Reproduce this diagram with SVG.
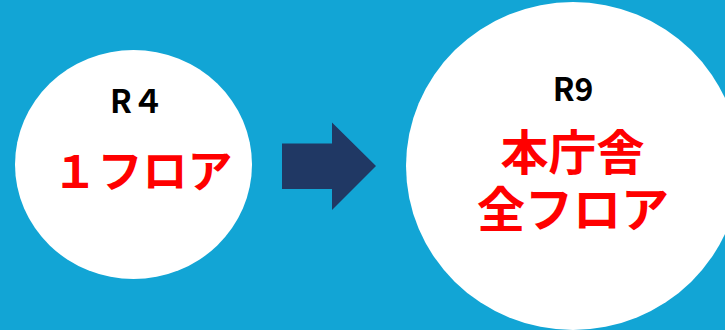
<svg xmlns="http://www.w3.org/2000/svg" width="725" height="330" viewBox="0 0 725 330">
  <style>
    .circle { fill: #FFFFFF; }
    .lbl { font-family: "Noto Sans CJK JP", "Noto Sans", sans-serif; font-weight: bold; text-anchor: middle; }
    .black { fill: #000000; font-size: 32px; }
    .red { fill: #FF0000; }
  </style>
  <rect x="0" y="0" width="725" height="330" fill="#12A5D5"/>
  <g id="node-r4">
    <ellipse class="circle" cx="133.5" cy="164.5" rx="118.5" ry="114.5"/>
    <text class="lbl black" x="137" y="113">R４</text>
    <text class="lbl red" x="142.5" y="188" font-size="45">１フロア</text>
  </g>
  <g id="connectors">
    <polygon fill="#203864" points="282,143.5 332,143.5 332,122.5 376,166 332,210 332,189 282,189"/>
  </g>
  <g id="node-r9">
    <ellipse class="circle" cx="573" cy="166" rx="167" ry="164"/>
    <text class="lbl black" x="573" y="101">R9</text>
    <text class="lbl red" x="572.5" y="169.5" font-size="48">本庁舎</text>
    <text class="lbl red" x="573" y="227" font-size="48">全フロア</text>
  </g>
</svg>
